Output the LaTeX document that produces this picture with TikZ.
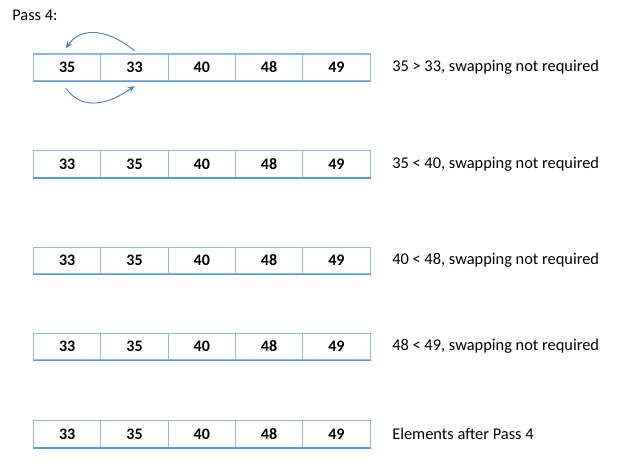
\documentclass[tikz,border=0pt]{standalone}
\usepackage{fontspec}
\setmainfont{Carlito}
\usetikzlibrary{arrows.meta}
\definecolor{cellline}{RGB}{140,185,228}
\definecolor{cellbottom}{RGB}{91,155,213}
\definecolor{arrowblue}{RGB}{74,126,200}
\begin{document}
\begin{tikzpicture}[x=0.75pt,y=-0.75pt,
  cell/.style={draw=cellline,line width=0.8pt,minimum width=50.5pt,minimum height=20.2pt,
    inner sep=0pt,anchor=center,font=\fontsize{12}{14}\selectfont\bfseries},
  note/.style={anchor=west,inner sep=0pt,font=\fontsize{12.3}{14}\selectfont},
  swap/.style={draw=arrowblue,line width=0.7pt,-{Stealth[length=5pt,width=4.5pt]}}]
\useasboundingbox (0,0) rectangle (623,467);
\node[note] (title) at (12,15) {Pass 4:};
\foreach \r/\yy/\a/\b/\c/\d/\e/\txt in {
  1/67.5/35/33/40/48/49/{35 > 33, swapping not required},
  2/164/33/35/40/48/49/{35 < 40, swapping not required},
  3/260.5/33/35/40/48/49/{40 < 48, swapping not required},
  4/346.5/33/35/40/48/49/{48 < 49, swapping not required},
  5/434/33/35/40/48/49/{Elements after Pass 4}}{
  \node[cell] (r\r c1) at (67.2,\yy) {\a};
  \node[cell] (r\r c2) at (134.5,\yy) {\b};
  \node[cell] (r\r c3) at (201.8,\yy) {\c};
  \node[cell] (r\r c4) at (269.1,\yy) {\d};
  \node[cell] (r\r c5) at (336.4,\yy) {\e};
  \draw[cellbottom,line width=1.3pt] (r\r c1.south west) -- (r\r c5.south east);
  \node[note] (t\r) at (392,\yy) {\txt};
}
\draw[swap] ([yshift=2pt]r1c2.north) to[out=140,in=55,looseness=1.1] ([xshift=-1pt,yshift=4pt]r1c1.north);
\draw[swap] ([xshift=-1pt,yshift=-5pt]r1c1.south) to[out=-55,in=-145,looseness=1.1] ([yshift=-3.5pt]r1c2.south);
\end{tikzpicture}
\end{document}
